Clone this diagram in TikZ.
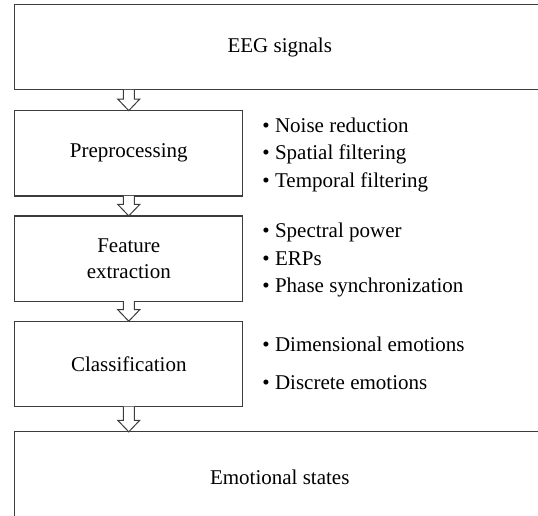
\documentclass[tikz,border=0pt]{standalone}
\usepackage{fontspec}
\setmainfont{Liberation Serif}
\usetikzlibrary{positioning,calc}
\definecolor{eegLine}{RGB}{60,60,60}

\begin{document}
\begin{tikzpicture}[
  x=1pt, y=1pt,
  stage/.style={draw=eegLine, line width=1.2pt, minimum height=85.3pt, align=center, inner sep=0pt, outer sep=0pt, font=\fontsize{21}{26}\selectfont},
  wide/.style={stage, minimum width=530pt},
  narrow/.style={stage, minimum width=228pt},
  items/.style={align=left, inner sep=0pt, font=\fontsize{21}{27.5}\selectfont},
  hollow/.style={draw=eegLine, line width=1pt, fill=white, line join=miter}
]
\clip (0,0) rectangle (538,-516);
\node[wide] (eeg) at (279.75,-47.25) {EEG signals};
\node[narrow, below=20.7pt of eeg.south west, anchor=north west] (pre) {Preprocessing};
\node[narrow, below=20pt of pre] (feat) {Feature\\extraction};
\node[narrow, below=20pt of feat] (cls) {Classification};
\node[wide, minimum height=92pt, below=25.3pt of cls.south west, anchor=north west] (emo) {Emotional states};
% bullet lists
\node[items, right=19.5pt of pre, yshift=-1.5pt] (prelist) {\textbullet\ Noise reduction\\\textbullet\ Spatial filtering\\\textbullet\ Temporal filtering};
\node[items, right=19.5pt of feat, yshift=-1.5pt] (featlist) {\textbullet\ Spectral power\\\textbullet\ ERPs\\\textbullet\ Phase synchronization};
\node[items, right=19.5pt of cls, yshift=0.5pt] (clslist) {\textbullet\ Dimensional emotions\\[10pt]\textbullet\ Discrete emotions};
% hollow arrows
\foreach \a/\b in {eeg/pre, pre/feat, feat/cls, cls/emo} {
  \path (\a.south -| pre.north) coordinate (top) (\b.north -| pre.north) coordinate (tip);
  \draw[hollow] ($(top)+(-5.5,0)$) -- ($(tip)+(-5.5,11.5)$) -- ($(tip)+(-11,11.5)$) -- (tip)
    -- ($(tip)+(11,11.5)$) -- ($(tip)+(5.5,11.5)$) -- ($(top)+(5.5,0)$);
}
\end{tikzpicture}
\end{document}
